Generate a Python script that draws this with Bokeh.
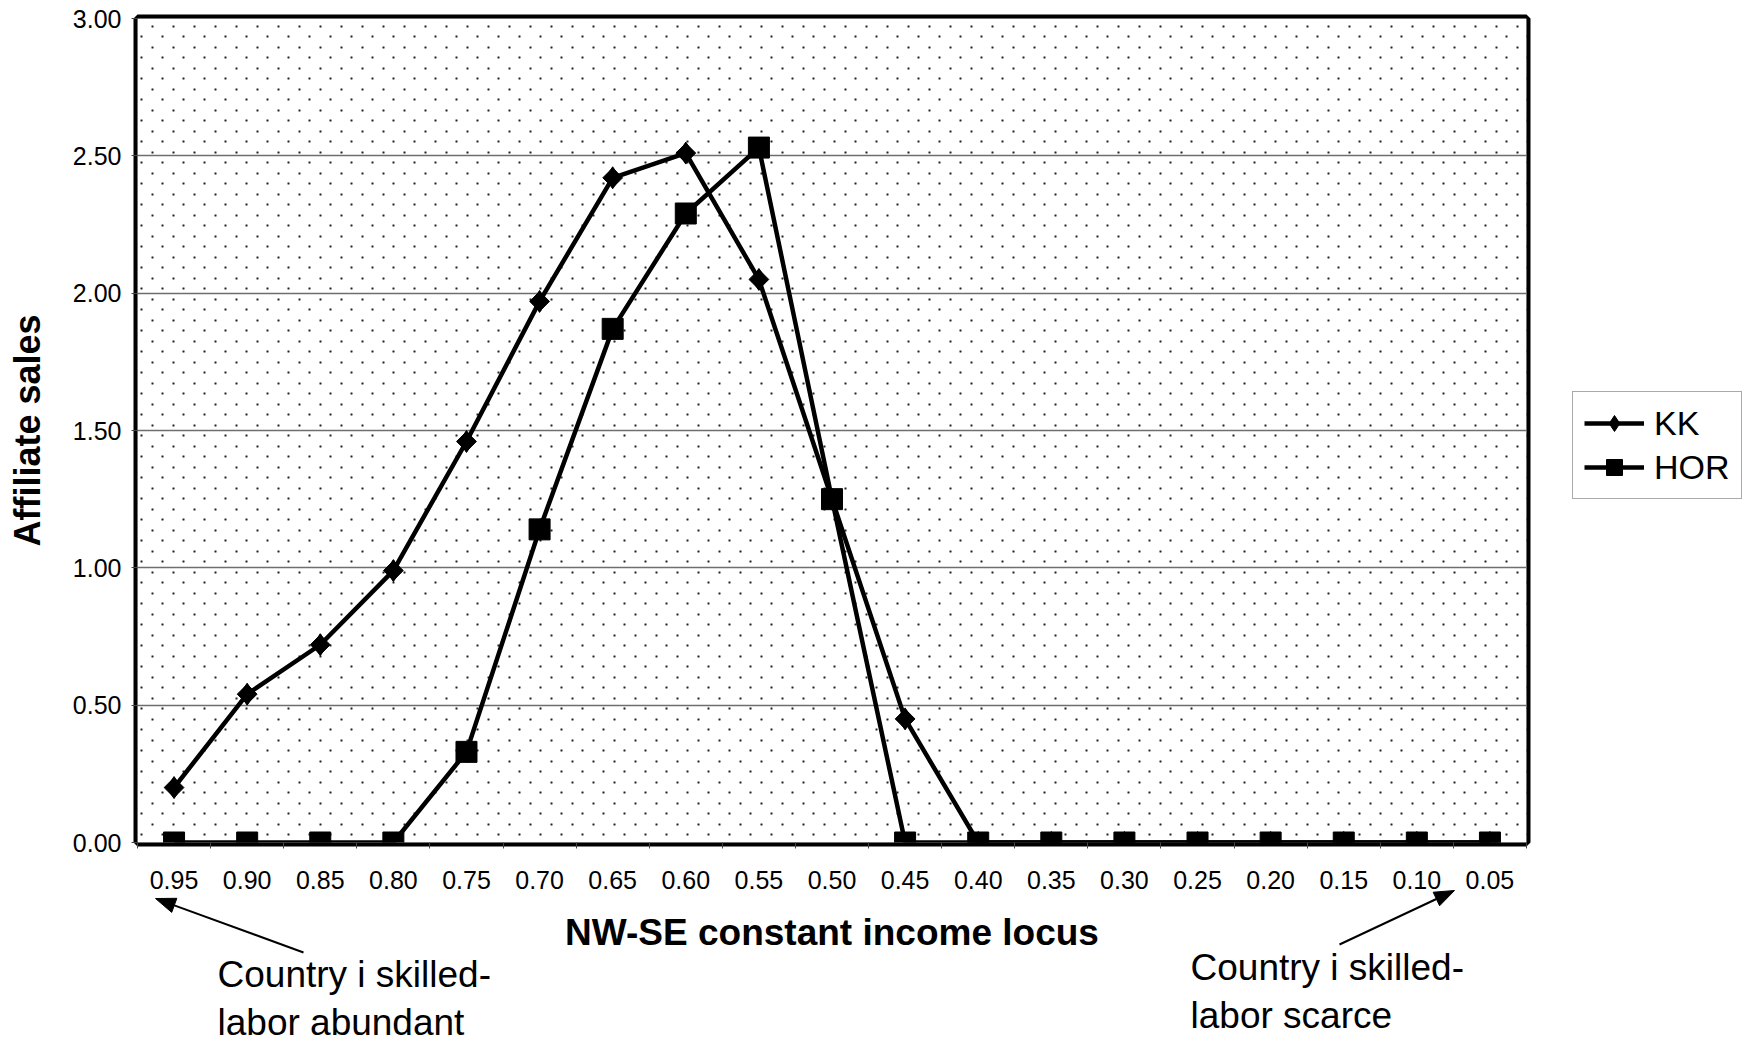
import math, zlib, struct, base64
from bokeh.plotting import figure
from bokeh.layouts import column
from bokeh.models import (Range1d, FixedTicker, NumeralTickFormatter, BoxAnnotation, Legend,
                          LegendItem, Label, CustomJSTickFormatter, ImageURLTexture)
from bokeh.embed import file_html
from bokeh.resources import INLINE

# ---- data ----
categories = ["0.95", "0.90", "0.85", "0.80", "0.75", "0.70", "0.65", "0.60", "0.55", "0.50",
              "0.45", "0.40", "0.35", "0.30", "0.25", "0.20", "0.15", "0.10", "0.05"]
kk = [0.20, 0.54, 0.72, 0.99, 1.46, 1.97, 2.42, 2.51, 2.05, 1.25,
      0.45, 0.00, 0.00, 0.00, 0.00, 0.00, 0.00, 0.00, 0.00]
hor = [0.00, 0.00, 0.00, 0.00, 0.33, 1.14, 1.87, 2.29, 2.53, 1.25,
       0.00, 0.00, 0.00, 0.00, 0.00, 0.00, 0.00, 0.00, 0.00]
y_ticks = [0.0, 0.5, 1.0, 1.5, 2.0, 2.5, 3.0]
series_names = ["KK", "HOR"]
x_title = "NW-SE constant income locus"
y_title = "Affiliate sales"
note_left = "Country i skilled-\nlabor abundant"
note_right = "Country i skilled-\nlabor scarce"

FONT = "Liberation Sans"
W, H = 1746, 1042
BL, BR, BT, BB = 137, 220, 18, 200   # borders around the plot frame

n = len(categories)
xpos = [i + 0.5 for i in range(n)]          # slot centres of each category
bounds = [float(i) for i in range(n + 1)]   # slot boundaries (tick marks)


# small staggered-dot texture tile (plot-area fill pattern)
def dot_tile(w=21, h=21, centres=((5, 5), (15, 15))):
    px = [[255] * w for _ in range(h)]
    for cx, cy in centres:
        for dx in (-1, 0, 1):
            for dy in (-1, 0, 1):
                v = 35 if (dx == 0 and dy == 0) else (140 if (dx == 0 or dy == 0) else 205)
                x, y = (cx + dx) % w, (cy + dy) % h
                px[y][x] = min(px[y][x], v)
    raw = b"".join(b"\x00" + bytes(row) for row in px)

    def chunk(t, d):
        return struct.pack(">I", len(d)) + t + d + struct.pack(">I", zlib.crc32(t + d) & 0xffffffff)

    png = (b"\x89PNG\r\n\x1a\n" + chunk(b"IHDR", struct.pack(">IIBBBBB", w, h, 8, 0, 0, 0, 0))
           + chunk(b"IDAT", zlib.compress(raw)) + chunk(b"IEND", b""))
    return "data:image/png;base64," + base64.b64encode(png).decode()


p = figure(width=W, height=H, output_backend="svg", toolbar_location=None,
           x_range=Range1d(0, n), y_range=Range1d(0, 3),
           min_border_left=BL, min_border_right=BR, min_border_top=BT, min_border_bottom=BB)
p.background_fill_color = "white"
p.border_fill_color = "white"
p.outline_line_color = "black"
p.outline_line_width = 8

# dotted plot area
bg = BoxAnnotation(fill_color="white", fill_alpha=1.0, line_color=None,
                   hatch_pattern="dots", hatch_extra={"dots": ImageURLTexture(url=dot_tile())},
                   level="image")
p.add_layout(bg)

# grid
p.xgrid.visible = False
p.ygrid.grid_line_color = "#6e6e6e"
p.ygrid.grid_line_width = 1.5
p.ygrid.ticker = FixedTicker(ticks=y_ticks)

# y axis
ya = p.yaxis[0]
ya.ticker = FixedTicker(ticks=y_ticks)
ya.formatter = NumeralTickFormatter(format="0.00")
ya.axis_line_color = None
ya.major_tick_in = 0
ya.major_tick_out = 6
ya.major_tick_line_color = "#444444"
ya.minor_tick_line_color = None
ya.major_label_text_font = FONT
ya.major_label_text_font_size = "25px"
ya.major_label_text_color = "black"
ya.major_label_standoff = 10
ya.axis_label = y_title
ya.axis_label_text_font = FONT
ya.axis_label_text_font_size = "36px"
ya.axis_label_text_font_style = "bold"
ya.axis_label_text_color = "black"
ya.axis_label_standoff = 22

# x axis: labels at slot centres, tick marks at slot boundaries
xa = p.xaxis[0]
xa.ticker = FixedTicker(ticks=xpos, minor_ticks=bounds)
xa.formatter = CustomJSTickFormatter(args=dict(labels=categories),
                                     code="return labels[Math.round(tick - 0.5)] || '';")
xa.axis_line_color = None
xa.major_tick_line_color = None
xa.minor_tick_line_color = "#444444"
xa.minor_tick_in = 0
xa.minor_tick_out = 6
xa.major_tick_in = 0
xa.major_tick_out = 6
xa.major_label_text_font = FONT
xa.major_label_text_font_size = "25px"
xa.major_label_text_color = "black"
xa.major_label_standoff = 22
xa.axis_label = x_title
xa.axis_label_text_font = FONT
xa.axis_label_text_font_size = "37px"
xa.axis_label_text_font_style = "bold"
xa.axis_label_text_color = "black"
xa.axis_label_standoff = 20

# series
line_kw = dict(line_color="black", line_width=4.5)
kk_mark = dict(marker="diamond", size=22, fill_color="black", line_color="black")
hor_mark = dict(marker="square", size=21, fill_color="black", line_color="black")

p.line(xpos, kk, **line_kw)
p.scatter(xpos, kk, marker="square", angle=math.pi / 4, size=14,
          fill_color="black", line_color="black")
p.scatter(xpos, kk, **kk_mark)
p.line(xpos, hor, **line_kw)
p.scatter(xpos, hor, **hor_mark)

# ---- transparent overlay (pixel coordinates, y down) for everything outside the frame ----
can_unalign = "frame_align" in p.properties()
p2 = figure(width=W, height=H, output_backend="svg", toolbar_location=None,
            x_range=Range1d(0, W) if can_unalign else Range1d(BL, W - BR),
            y_range=Range1d(H, 0),
            x_axis_location=None, y_axis_location=None, min_border=0)
p2.min_border_left = p2.min_border_right = p2.min_border_top = p2.min_border_bottom = 0
if can_unalign:
    p.frame_align = False
    p2.frame_align = False
p2.outline_line_color = None
p2.background_fill_alpha = 0
p2.border_fill_alpha = 0
p2.xgrid.visible = False
p2.ygrid.visible = False
p2.margin = (-H, 0, 0, 0)

# legend (its sample glyphs mirror the series' styles; renderers hidden)
g1 = p2.line(xpos, kk, visible=False, **line_kw)
g1m = p2.scatter(xpos, kk, visible=False, **kk_mark)
g2 = p2.line(xpos, hor, visible=False, **line_kw)
g2m = p2.scatter(xpos, hor, visible=False, **hor_mark)
legend = Legend(items=[LegendItem(label=series_names[0], renderers=[g1, g1m]),
                       LegendItem(label=series_names[1], renderers=[g2, g2m])],
                location=(1572, H - 499),
                label_text_font=FONT, label_text_font_size="34px", label_text_color="black",
                glyph_width=60, glyph_height=40, label_standoff=10, padding=11, spacing=4,
                border_line_color="#555555", border_line_width=1,
                background_fill_color="white", background_fill_alpha=1.0, margin=0,
                inactive_fill_alpha=0.0)
p2.add_layout(legend)

p2.add_layout(Label(x=217, y=953, text=note_left, text_font=FONT, text_font_size="37px",
                    text_baseline="top", text_align="left", text_line_height=1.19,
                    text_color="black"))
p2.add_layout(Label(x=1190, y=946, text=note_right, text_font=FONT, text_font_size="37px",
                    text_baseline="top", text_align="left", text_line_height=1.19,
                    text_color="black"))


def add_arrow(fig, x0, y0, x1, y1, head_len=20.0, head_half=7.5):
    dx, dy = x1 - x0, y1 - y0
    L = math.hypot(dx, dy)
    ux, uy = dx / L, dy / L
    bx, by = x1 - ux * head_len, y1 - uy * head_len
    fig.segment(x0=[x0], y0=[y0], x1=[bx], y1=[by], line_color="black", line_width=2)
    px, py = -uy, ux
    fig.patch([x1, bx + px * head_half, bx - px * head_half],
              [y1, by + py * head_half, by - py * head_half],
              fill_color="black", line_color="black", line_width=1)


add_arrow(p2, 303, 952, 155, 898)
add_arrow(p2, 1339, 944, 1454, 890)

layout = column(p, p2, spacing=0)
open("out.html", "w").write(file_html(layout, INLINE))
